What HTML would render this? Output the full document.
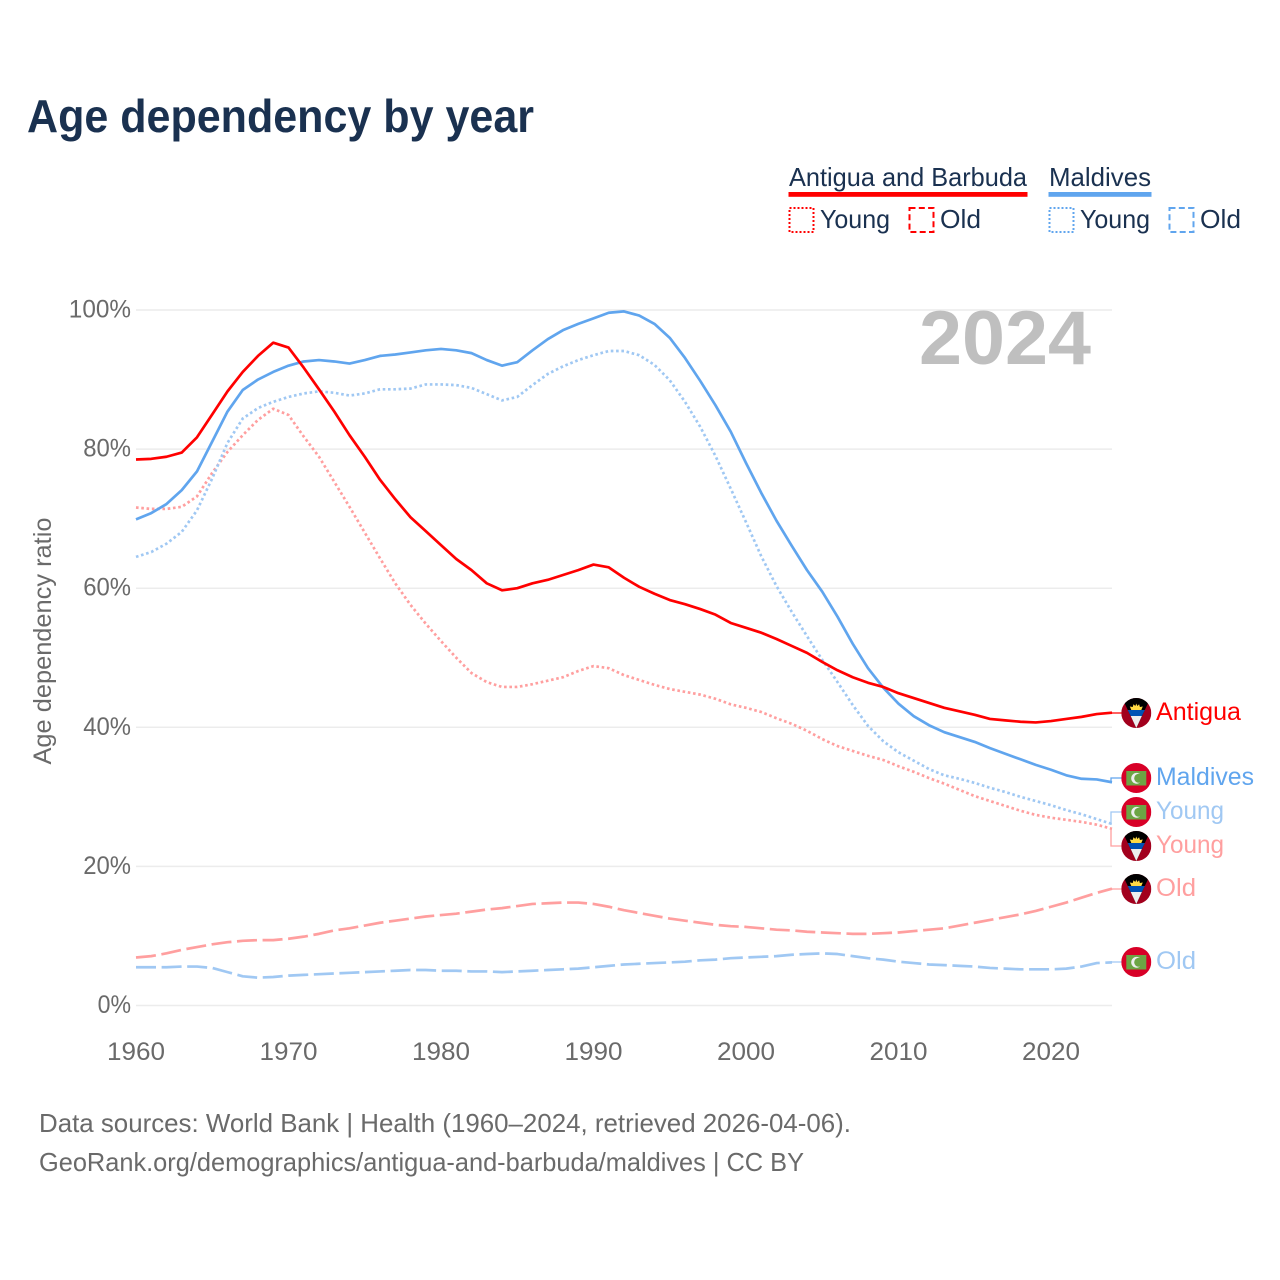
<!DOCTYPE html>
<html lang="en">
<head>
<meta charset="utf-8">
<title>Age dependency by year</title>
<style>
html,body{margin:0;padding:0;background:#fff;}
svg{display:block;font-family:"Liberation Sans",sans-serif;}
</style>
</head>
<body>
<svg id="chart" xmlns="http://www.w3.org/2000/svg" width="1280" height="1280" viewBox="0 0 1280 1280">
  <rect x="0" y="0" width="1280" height="1280" fill="#ffffff"/>
  <text x="27" y="132" font-size="46" font-weight="700" fill="#1a3150" textLength="507" lengthAdjust="spacingAndGlyphs">Age dependency by year</text>

  <g font-size="26" fill="#1a3150">
    <text x="789" y="186" textLength="238" lengthAdjust="spacingAndGlyphs">Antigua and Barbuda</text>
    <rect x="788.5" y="192" width="239" height="4.8" fill="#ff0000"/>
    <text x="1049" y="186" textLength="102" lengthAdjust="spacingAndGlyphs">Maldives</text>
    <rect x="1048.5" y="192" width="103" height="4.8" fill="#60a5ee"/>
    <rect x="789.5" y="208" width="24" height="24" fill="none" stroke="#ff0000" stroke-width="2" stroke-dasharray="2,2"/>
    <text x="820" y="228" textLength="70" lengthAdjust="spacingAndGlyphs">Young</text>
    <rect x="909.5" y="208" width="24" height="24" fill="none" stroke="#ff0000" stroke-width="2" stroke-dasharray="6,3.3"/>
    <text x="940" y="228" textLength="41" lengthAdjust="spacingAndGlyphs">Old</text>
    <rect x="1049.5" y="208" width="24" height="24" fill="none" stroke="#60a5ee" stroke-width="2" stroke-dasharray="2,2"/>
    <text x="1080" y="228" textLength="70" lengthAdjust="spacingAndGlyphs">Young</text>
    <rect x="1169.5" y="208" width="24" height="24" fill="none" stroke="#60a5ee" stroke-width="2" stroke-dasharray="6,3.3"/>
    <text x="1200" y="228" textLength="41" lengthAdjust="spacingAndGlyphs">Old</text>
  </g>

  <g id="grid"></g>
  <text x="919" y="364" font-size="76" font-weight="700" fill="#bfbfbf" textLength="172" lengthAdjust="spacingAndGlyphs">2024</text>
  <g id="y-ticks" font-size="25" fill="#6a6a6a" text-anchor="end"></g>
  <g id="x-ticks" font-size="25" fill="#6a6a6a" text-anchor="middle"></g>
  <text transform="translate(51,641) rotate(-90)" font-size="25" fill="#6a6a6a" text-anchor="middle" textLength="247" lengthAdjust="spacingAndGlyphs">Age dependency ratio</text>
  <g id="series" fill="none" stroke-linejoin="round"></g>
  <g id="end-labels"></g>

  <g font-size="26" fill="#6a6a6a">
    <text x="39" y="1132" textLength="812" lengthAdjust="spacingAndGlyphs">Data sources: World Bank | Health (1960–2024, retrieved 2026-04-06).</text>
    <text x="39" y="1171" textLength="765" lengthAdjust="spacingAndGlyphs">GeoRank.org/demographics/antigua-and-barbuda/maldives | CC BY</text>
  </g>

  <defs>
    <clipPath id="flag-clip"><circle cx="0" cy="0" r="15"/></clipPath>
    <g id="flag-antigua" clip-path="url(#flag-clip)">
      <rect x="-15" y="-15" width="30" height="30" fill="#a2001d"/>
      <polygon points="-14.2,-15 14.2,-15 0,15" fill="#000000"/>
      <polygon points="-5,-3 -6.5,-6.5 -3.6,-6 -2.8,-8.8 -1,-7 0,-9.5 1,-7 2.8,-8.8 3.6,-6 6.5,-6.5 5,-3" fill="#ffda44"/>
      <polygon points="-8.6,-3 8.6,-3 5.6,3 -5.6,3" fill="#0052b4"/>
      <polygon points="-5.6,3 5.6,3 0,15" fill="#eeeeee"/>
    </g>
    <g id="flag-maldives" clip-path="url(#flag-clip)">
      <rect x="-15" y="-15" width="30" height="30" fill="#d80027"/>
      <rect x="-10" y="-7" width="20" height="14.5" fill="#6da544"/>
      <circle cx="0.3" cy="0.3" r="5.4" fill="#eeeeee"/>
      <circle cx="2.4" cy="0.3" r="4.5" fill="#6da544"/>
    </g>
  </defs>
</svg>
<script>
// Chart data (years 1960-2024, dependency ratio in %)
const firstYear = 1960;
const lastYear = 2024;
const yTickValues = [0, 20, 40, 60, 80, 100];
const xTickValues = [1960, 1970, 1980, 1990, 2000, 2010, 2020];

const antiguaTotal = [78.5,78.6,78.9,79.5,81.7,85,88.3,91.1,93.4,95.3,
  94.6,91.7,88.6,85.4,82,78.9,75.6,72.8,70.2,68.2,
  66.2,64.2,62.6,60.7,59.7,60,60.7,61.2,61.9,62.6,
  63.4,63,61.5,60.2,59.2,58.3,57.7,57,56.2,55,
  54.3,53.6,52.7,51.7,50.7,49.4,48.2,47.2,46.4,45.8,
  44.9,44.2,43.5,42.8,42.3,41.8,41.2,41,40.8,40.7,
  40.9,41.2,41.5,41.9,42.1];
const antiguaYoung = [71.6,71.4,71.4,71.7,73.2,76.6,79.6,82,84.2,85.8,
  84.9,81.8,78.9,75.3,71.7,68,64.3,60.7,57.6,54.9,
  52.4,50,47.8,46.5,45.8,45.8,46.2,46.7,47.2,48.1,
  48.8,48.5,47.5,46.8,46.1,45.5,45.1,44.7,44.1,43.3,
  42.8,42.2,41.3,40.5,39.5,38.3,37.3,36.6,35.9,35.3,
  34.4,33.6,32.7,31.9,31,30.1,29.4,28.7,28,27.4,
  27,26.7,26.4,26,25.4];
const antiguaOld = [6.9,7.1,7.5,8,8.4,8.8,9.1,9.3,9.4,9.4,
  9.6,9.9,10.3,10.8,11.1,11.5,11.9,12.2,12.5,12.8,
  13,13.2,13.5,13.8,14,14.3,14.6,14.7,14.8,14.8,
  14.6,14.2,13.7,13.3,12.9,12.5,12.2,11.9,11.6,11.4,
  11.3,11.1,10.9,10.8,10.6,10.5,10.4,10.3,10.3,10.4,
  10.5,10.7,10.9,11.1,11.5,11.9,12.3,12.7,13.1,13.6,
  14.2,14.8,15.5,16.2,16.8];
const maldivesTotal = [69.9,70.8,72.1,74.1,76.8,81.1,85.4,88.5,90,91.1,
  92,92.6,92.8,92.6,92.3,92.8,93.4,93.6,93.9,94.2,
  94.4,94.2,93.8,92.8,92,92.5,94.2,95.8,97.1,98,
  98.8,99.6,99.8,99.2,98,96,93.1,89.8,86.3,82.5,
  78,73.7,69.7,66.1,62.6,59.5,55.9,52,48.5,45.7,
  43.4,41.6,40.3,39.3,38.6,37.9,37,36.2,35.4,34.6,
  33.9,33.1,32.6,32.5,32.1];
const maldivesYoung = [64.5,65.2,66.4,68.1,71.2,75.8,80.9,84.4,85.9,86.8,
  87.5,88,88.3,88.1,87.7,88,88.6,88.6,88.7,89.3,
  89.3,89.2,88.8,87.9,87,87.5,89.2,90.8,91.9,92.8,
  93.5,94.1,94.1,93.5,92.1,89.9,86.8,83.2,79,74.3,
  69.5,64.6,60.3,56.6,53.1,49.7,46.5,43.2,40.2,38,
  36.4,35.2,34,33.1,32.6,32,31.3,30.7,30,29.4,
  28.8,28.1,27.5,26.8,26.1];
const maldivesOld = [5.5,5.5,5.5,5.6,5.6,5.4,4.8,4.2,4.0,4.1,
  4.3,4.4,4.5,4.6,4.7,4.8,4.9,5,5.1,5.1,
  5,5,4.9,4.9,4.8,4.9,5,5.1,5.2,5.3,
  5.5,5.7,5.9,6,6.1,6.2,6.3,6.5,6.6,6.8,
  6.9,7,7.1,7.3,7.4,7.5,7.4,7.1,6.8,6.6,
  6.3,6.1,5.9,5.8,5.7,5.6,5.4,5.3,5.2,5.2,
  5.2,5.3,5.6,6.1,6.2];

const NS = 'http://www.w3.org/2000/svg';
const plotLeft = 136, plotRight = 1112, yZero = 1005.5, yHundred = 310;
function xScale(year){ return plotLeft + (year - firstYear) * (plotRight - plotLeft) / (lastYear - firstYear); }
function yScale(v){ return yZero + (yHundred - yZero) * v / 100; }
function make(tag, attrs){
  const el = document.createElementNS(NS, tag);
  for (const k in attrs) el.setAttribute(k, attrs[k]);
  return el;
}

// Gridlines and y ticks
const gridGroup = document.getElementById('grid');
const yTickGroup = document.getElementById('y-ticks');
yTickValues.forEach(function(v){
  const line = make('line', {x1: plotLeft, x2: plotRight, y1: yScale(v), y2: yScale(v), stroke: '#ececec', 'stroke-width': 1.5});
  
  
  gridGroup.appendChild(line);
  const text = v + '%';
  const label = make('text', {x: 131, y: yScale(v) + 7.5, textLength: 14.4 * String(v).length + 19, lengthAdjust: 'spacingAndGlyphs'});
  
  
  label.textContent = text;
  yTickGroup.appendChild(label);
});

// X ticks
const xTickGroup = document.getElementById('x-ticks');
xTickValues.forEach(function(yr){
  const label = make('text', {x: xScale(yr), y: 1060, textLength: 58, lengthAdjust: 'spacingAndGlyphs'});
  
  
  label.textContent = yr;
  xTickGroup.appendChild(label);
});

// Series
const redFull = '#ff0000', redLight = '#ff9f9f', blueFull = '#60a5ee', blueLight = '#a0c8f3';
const dotted = '2.6,2.7', dashed = '20,5.6';
const seriesList = [
  {id: 'maldives-old', values: maldivesOld, color: blueLight, dash: dashed, label: 'Old', flag: 'flag-maldives', w: 40},
  {id: 'antigua-old', values: antiguaOld, color: redLight, dash: dashed, label: 'Old', flag: 'flag-antigua', w: 40},
  {id: 'antigua-young', values: antiguaYoung, color: redLight, dash: dotted, label: 'Young', flag: 'flag-antigua', w: 68},
  {id: 'maldives-young', values: maldivesYoung, color: blueLight, dash: dotted, label: 'Young', flag: 'flag-maldives', w: 68},
  {id: 'maldives-total', values: maldivesTotal, color: blueFull, dash: null, label: 'Maldives', flag: 'flag-maldives', w: 98},
  {id: 'antigua-total', values: antiguaTotal, color: redFull, dash: null, label: 'Antigua', flag: 'flag-antigua', w: 85}
];
const seriesGroup = document.getElementById('series');
seriesList.forEach(function(s){
  const d = s.values.map(function(v, i){
    return (i ? 'L' : 'M') + xScale(firstYear + i).toFixed(2) + ' ' + yScale(v).toFixed(2);
  }).join('');
  const path = make('path', {d: d, stroke: s.color, 'stroke-width': 2.7});
  if (s.dash) path.setAttribute('stroke-dasharray', s.dash);
  
  
  seriesGroup.appendChild(path);
});

// End labels: spread overlapping clusters so flags sit at least minGap apart
const minGap = 34;
const ordered = seriesList.map(function(s){
  return {s: s, end: yScale(s.values[s.values.length - 1])};
}).sort(function(a, b){ return a.end - b.end; });
let clusters = ordered.map(function(o){ return {items: [o], center: o.end}; });
let merged = true;
while (merged) {
  merged = false;
  for (let i = 0; i < clusters.length - 1; i++) {
    const a = clusters[i], b = clusters[i + 1];
    const aBottom = a.center + (a.items.length - 1) * minGap / 2;
    const bTop = b.center - (b.items.length - 1) * minGap / 2;
    if (bTop - aBottom < minGap) {
      const items = a.items.concat(b.items);
      const center = items.reduce(function(t, o){ return t + o.end; }, 0) / items.length;
      clusters.splice(i, 2, {items: items, center: center});
      merged = true;
      break;
    }
  }
}
const endGroup = document.getElementById('end-labels');
clusters.forEach(function(c){
  c.items.forEach(function(o, idx){
    const flagY = Math.round(c.center + (idx - (c.items.length - 1) / 2) * minGap);
    const s = o.s;
    const conn = make('path', {
      d: 'M' + plotRight + ' ' + o.end.toFixed(1) + 'L' + (plotRight - 1) + ' ' + o.end.toFixed(1) + 'V' + flagY + 'H1123',
      fill: 'none', stroke: s.color, 'stroke-width': 1.3
    });
    
    
    endGroup.appendChild(conn);
    const flag = make('use', {href: '#' + s.flag, transform: 'translate(1136.3,' + flagY + ')'});
    
    
    endGroup.appendChild(flag);
    const text = make('text', {x: 1156, y: flagY + 7, 'font-size': 25, fill: s.color, textLength: s.w, lengthAdjust: 'spacingAndGlyphs'});
    
    
    text.textContent = s.label;
    endGroup.appendChild(text);
  });
});
</script>
</body>
</html>
